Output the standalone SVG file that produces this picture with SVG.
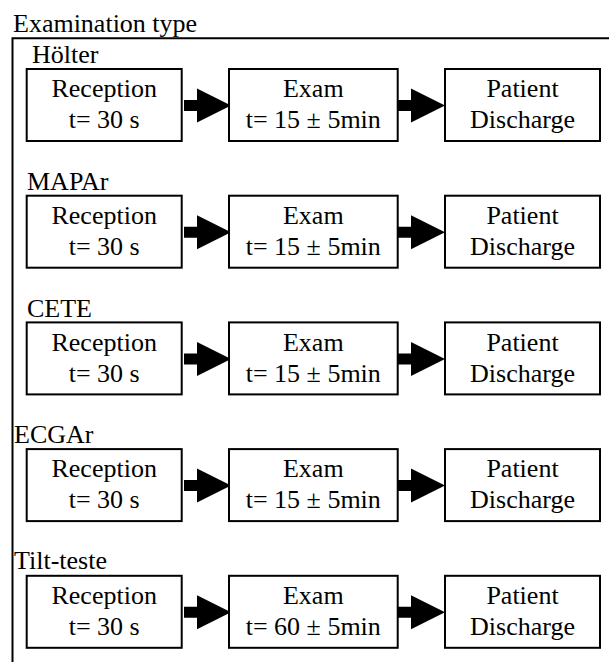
<svg xmlns="http://www.w3.org/2000/svg" width="609" height="662" viewBox="0 0 609 662">
<defs>
<path id="arr" d="M0,-5.5 H13 V-17 L47,0 L13,17 V5.5 H0 Z" fill="#000"/>
<rect id="bs" width="155" height="72" fill="#fff" stroke="#000" stroke-width="2"/>
<rect id="bl" width="168.7" height="72" fill="#fff" stroke="#000" stroke-width="2"/>
</defs>
<rect width="609" height="662" fill="#fff"/>
<g id="frame">
<text font-family="Liberation Serif" font-size="26" x="13" y="31.5">Examination type</text>
<path d="M609,38.3 H12.5 V662" fill="none" stroke="#000" stroke-width="2"/>
</g>
<g id="connectors">
<use href="#arr" x="184" y="105.5"/>
<use href="#arr" x="398" y="105.5"/>
<use href="#arr" x="184" y="232.2"/>
<use href="#arr" x="398" y="232.2"/>
<use href="#arr" x="184" y="358.9"/>
<use href="#arr" x="398" y="358.9"/>
<use href="#arr" x="184" y="485.6"/>
<use href="#arr" x="398" y="485.6"/>
<use href="#arr" x="184" y="612.3"/>
<use href="#arr" x="398" y="612.3"/>
</g>
<g id="row-holter" font-family="Liberation Serif" font-size="26">
<text x="32" y="63.3">Hölter</text>
<g id="holter-reception" text-anchor="middle"><use href="#bs" x="26.7" y="69"/><text x="104.2" y="97.3">Reception</text><text x="104.2" y="128.3">t= 30 s</text></g>
<g id="holter-exam" text-anchor="middle"><use href="#bl" x="229" y="69"/><text x="313.3" y="97.3">Exam</text><text x="313.3" y="128.3">t= 15 ± 5min</text></g>
<g id="holter-discharge" text-anchor="middle"><use href="#bs" x="445" y="69"/><text x="522.5" y="97.3">Patient</text><text x="522.5" y="128.3">Discharge</text></g>
</g>
<g id="row-mapar" font-family="Liberation Serif" font-size="26">
<text x="27" y="189.5">MAPAr</text>
<g id="mapar-reception" text-anchor="middle"><use href="#bs" x="26.7" y="195.7"/><text x="104.2" y="224">Reception</text><text x="104.2" y="255">t= 30 s</text></g>
<g id="mapar-exam" text-anchor="middle"><use href="#bl" x="229" y="195.7"/><text x="313.3" y="224">Exam</text><text x="313.3" y="255">t= 15 ± 5min</text></g>
<g id="mapar-discharge" text-anchor="middle"><use href="#bs" x="445" y="195.7"/><text x="522.5" y="224">Patient</text><text x="522.5" y="255">Discharge</text></g>
</g>
<g id="row-cete" font-family="Liberation Serif" font-size="26">
<text x="27" y="316.5">CETE</text>
<g id="cete-reception" text-anchor="middle"><use href="#bs" x="26.7" y="322.4"/><text x="104.2" y="350.7">Reception</text><text x="104.2" y="381.7">t= 30 s</text></g>
<g id="cete-exam" text-anchor="middle"><use href="#bl" x="229" y="322.4"/><text x="313.3" y="350.7">Exam</text><text x="313.3" y="381.7">t= 15 ± 5min</text></g>
<g id="cete-discharge" text-anchor="middle"><use href="#bs" x="445" y="322.4"/><text x="522.5" y="350.7">Patient</text><text x="522.5" y="381.7">Discharge</text></g>
</g>
<g id="row-ecgar" font-family="Liberation Serif" font-size="26">
<text x="14" y="442.8">ECGAr</text>
<g id="ecgar-reception" text-anchor="middle"><use href="#bs" x="26.7" y="449.1"/><text x="104.2" y="477.4">Reception</text><text x="104.2" y="508.4">t= 30 s</text></g>
<g id="ecgar-exam" text-anchor="middle"><use href="#bl" x="229" y="449.1"/><text x="313.3" y="477.4">Exam</text><text x="313.3" y="508.4">t= 15 ± 5min</text></g>
<g id="ecgar-discharge" text-anchor="middle"><use href="#bs" x="445" y="449.1"/><text x="522.5" y="477.4">Patient</text><text x="522.5" y="508.4">Discharge</text></g>
</g>
<g id="row-tilt" font-family="Liberation Serif" font-size="26">
<text x="14" y="569.4">Tilt-teste</text>
<g id="tilt-reception" text-anchor="middle"><use href="#bs" x="26.7" y="575.8"/><text x="104.2" y="604.1">Reception</text><text x="104.2" y="635.1">t= 30 s</text></g>
<g id="tilt-exam" text-anchor="middle"><use href="#bl" x="229" y="575.8"/><text x="313.3" y="604.1">Exam</text><text x="313.3" y="635.1">t= 60 ± 5min</text></g>
<g id="tilt-discharge" text-anchor="middle"><use href="#bs" x="445" y="575.8"/><text x="522.5" y="604.1">Patient</text><text x="522.5" y="635.1">Discharge</text></g>
</g>
</svg>
